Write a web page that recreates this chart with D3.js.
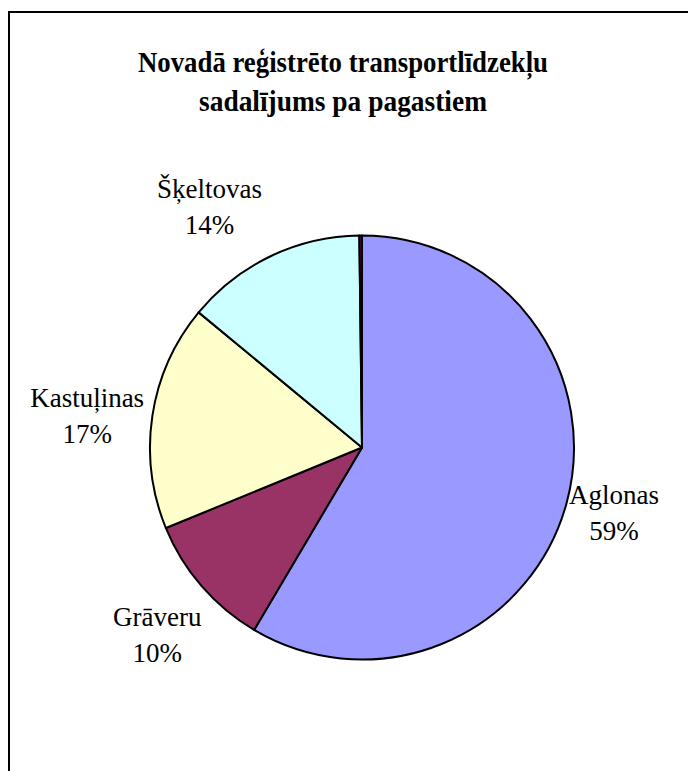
<!DOCTYPE html>
<html>
<head>
<meta charset="utf-8">
<script src="https://cdn.jsdelivr.net/npm/d3@7"></script>
<style>
  body { margin: 0; background: #fff; }
</style>
</head>
<body>
<div id="chart"></div>
<script>
// pagasti and their share of registered vehicles (%)
const categories = ["Aglonas", "Grāveru", "Kastuļinas", "Šķeltovas", ""];
const shares = [58.5, 10.3, 17.2, 13.8, 0.2];
const colors = ["#9999ff", "#993366", "#ffffcc", "#ccffff", "#660066"];
const titleLines = ["Novadā reģistrēto transportlīdzekļu", "sadalījums pa pagastiem"];

const width = 688, height = 771;
const cx = 362, cy = 447.5, radius = 212;
const serif = "'Liberation Serif', Tinos, 'Times New Roman', 'DejaVu Serif', serif";

const svg = d3.select("#chart").append("svg")
    .attr("width", width)
    .attr("height", height)
    .attr("font-family", serif);

// chart border (runs off the right and bottom of the window)
svg.append("rect")
    .attr("x", 9).attr("y", 12)
    .attr("width", 700).attr("height", 800)
    .attr("fill", "none")
    .attr("stroke", "#000")
    .attr("stroke-width", 2);

// title is tall and narrow in the original, squeeze it to its width
const titleWidth = [410, 288];
svg.append("g")
    .selectAll("text")
    .data(titleLines)
    .join("text")
    .attr("text-anchor", "middle")
    .attr("font-weight", "bold")
    .attr("font-size", 30)
    .attr("x", 343)
    .attr("y", (d, i) => 72 + i * 39)
    .attr("textLength", (d, i) => titleWidth[i])
    .attr("lengthAdjust", "spacingAndGlyphs")
    .text(d => d);

const data = categories.map((c, i) => ({name: c, value: shares[i], color: colors[i]}));

const pie = d3.pie().sort(null).value(d => d.value);
const arcs = pie(data);
const arc = d3.arc().innerRadius(0).outerRadius(radius);

const g = svg.append("g").attr("transform", `translate(${cx},${cy})`);

g.selectAll("path")
    .data(arcs)
    .join("path")
    .attr("d", arc)
    .attr("fill", d => d.data.color)
    .attr("stroke", "#000")
    .attr("stroke-width", 2)
    .attr("stroke-linejoin", "round");

// labels sit outside the pie on the mid-angle, some pushed a little
const labelRadius = {"Aglonas": 254, "Grāveru": 276, "Kastuļinas": 277, "Šķeltovas": 286};
const nudge = {"Aglonas": [7, -5], "Grāveru": [4, 4], "Kastuļinas": [-1, 7], "Šķeltovas": [-29, 15]};
const fmt = d3.format(".0%");

const labels = g.selectAll("g.label")
    .data(arcs.filter(d => d.data.name !== ""))
    .join("g")
    .attr("class", "label")
    .attr("transform", d => {
      const r = labelRadius[d.data.name];
      const c = d3.arc().innerRadius(r).outerRadius(r).centroid(d);
      const n = nudge[d.data.name];
      return `translate(${c[0] + n[0]},${c[1] + n[1]})`;
    });

labels.append("text")
    .attr("text-anchor", "middle")
    .attr("font-size", 27)
    .attr("y", -6)
    .text(d => d.data.name);

labels.append("text")
    .attr("text-anchor", "middle")
    .attr("font-size", 27)
    .attr("y", 30)
    .text(d => fmt(Math.round(d.data.value) / 100));
</script>
</body>
</html>
